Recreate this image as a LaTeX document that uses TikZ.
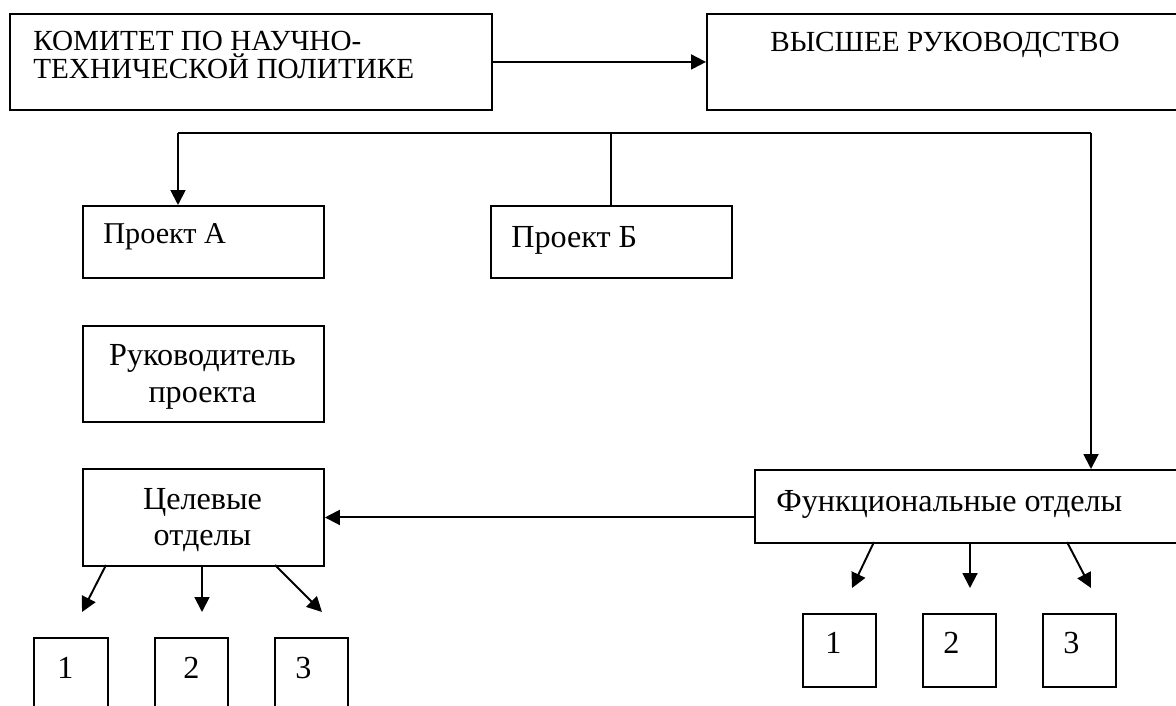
\documentclass[tikz,border=0pt]{standalone}
\usepackage{fontspec}
\setmainfont{Liberation Serif}
\usetikzlibrary{arrows.meta}

\tikzset{
  box/.style={draw, line width=1.1pt, inner sep=0pt, anchor=north west},
  small/.style={box, minimum width=1.46cm, minimum height=1.46cm},
  lbl/.style={anchor=base west, inner sep=0pt, font=\fontsize{16.6}{19}\selectfont},
  lblbig/.style={anchor=base west, inner sep=0pt, font=\fontsize{18.3}{21}\selectfont},
  lblc/.style={anchor=base, inner sep=0pt, font=\fontsize{18.3}{21}\selectfont},
  link/.style={line width=1.1pt},
  arr/.style={line width=1.1pt, -{Triangle[length=8.5pt,width=8.5pt]}}
}

\begin{document}
\begin{tikzpicture}[x=0.02cm, y=-0.02cm]
\useasboundingbox (0,0) rectangle (1176,706);
\clip (0,0) rectangle (1176,706);

% top row
\node[box, minimum width=9.64cm, minimum height=1.92cm] (kom) at (9,13) {};
\node[lbl] (komA) at (33,51) {КОМИТЕТ ПО НАУЧНО-};
\node[lbl] (komB) at (33,79) {ТЕХНИЧЕСКОЙ ПОЛИТИКЕ};

\node[box, minimum width=10cm, minimum height=1.92cm] (vys) at (706,13) {};
\node[lbl] (vysT) at (770,52) {ВЫСШЕЕ РУКОВОДСТВО};

\draw[arr] (kom.east) -- (vys.west);

% projects
\node[box, minimum width=4.82cm, minimum height=1.44cm] (pa) at (82,205) {};
\node[lbl, font=\fontsize{17.2}{20}\selectfont] (paT) at (103,243) {Проект А};

\node[box, minimum width=4.82cm, minimum height=1.44cm] (pb) at (490,205) {};
\node[lblbig] (pbT) at (511,247) {Проект Б};

% distribution line below the management
\coordinate (tl) at (178,133);
\coordinate (tm) at (611,133);
\coordinate (tr) at (1091,133);
\draw[link] (tl) -- (tr);
\draw[arr] (tl) -- (tl |- pa.north);
\draw[link] (tm) -- (tm |- pb.north);

% project manager
\node[box, minimum width=4.82cm, minimum height=1.92cm] (ruk) at (82,325) {};
\node[lblc] (rukA) at (202.5,365) {Руководитель};
\node[lblc] (rukB) at (202.5,402) {проекта};

% target departments
\node[box, minimum width=4.82cm, minimum height=1.94cm] (cel) at (82,468) {};
\node[lblc] (celA) at (202.5,509) {Целевые};
\node[lblc] (celB) at (202.5,545) {отделы};

% functional departments
\node[box, minimum width=10cm, minimum height=1.46cm] (fo) at (754,469) {};
\node[lblbig] (foT) at (776,511) {Функциональные отделы};

\draw[arr] (tr) -- (tr |- fo.north);
\draw[arr] (fo.west |- cel.east) -- (cel.east);

% units of the target departments
\node[box, minimum width=1.48cm, minimum height=2cm] (c1) at (33,637) {};
\node[box, minimum width=1.46cm, minimum height=2cm] (c2) at (154,637) {};
\node[box, minimum width=1.46cm, minimum height=2cm] (c3) at (274,637) {};
\node[lblbig] (c1T) at (57,678) {1};
\node[lblbig] (c2T) at (183,678) {2};
\node[lblbig] (c3T) at (295,678) {3};

\coordinate (ca1) at (106,565);
\coordinate (ca2) at (202,565);
\coordinate (ca3) at (275,565);
\coordinate (ct1) at (82,612);
\coordinate (ct2) at (202,612);
\coordinate (ct3) at (322,612);
\draw[arr] (ca1) -- (ct1);
\draw[arr] (ca2) -- (ct2);
\draw[arr] (ca3) -- (ct3);

% units of the functional departments
\node[small] (f1) at (802,613) {};
\node[small] (f2) at (922,613) {};
\node[small] (f3) at (1042,613) {};
\node[lblbig] (f1T) at (825,653) {1};
\node[lblbig] (f2T) at (943,653) {2};
\node[lblbig] (f3T) at (1063,653) {3};

\coordinate (fa1) at (874,542);
\coordinate (fa2) at (970,542);
\coordinate (fa3) at (1067,542);
\coordinate (ft1) at (852,588);
\coordinate (ft2) at (970,588);
\coordinate (ft3) at (1091,588);
\draw[arr] (fa1) -- (ft1);
\draw[arr] (fa2) -- (ft2);
\draw[arr] (fa3) -- (ft3);
\end{tikzpicture}
\end{document}
